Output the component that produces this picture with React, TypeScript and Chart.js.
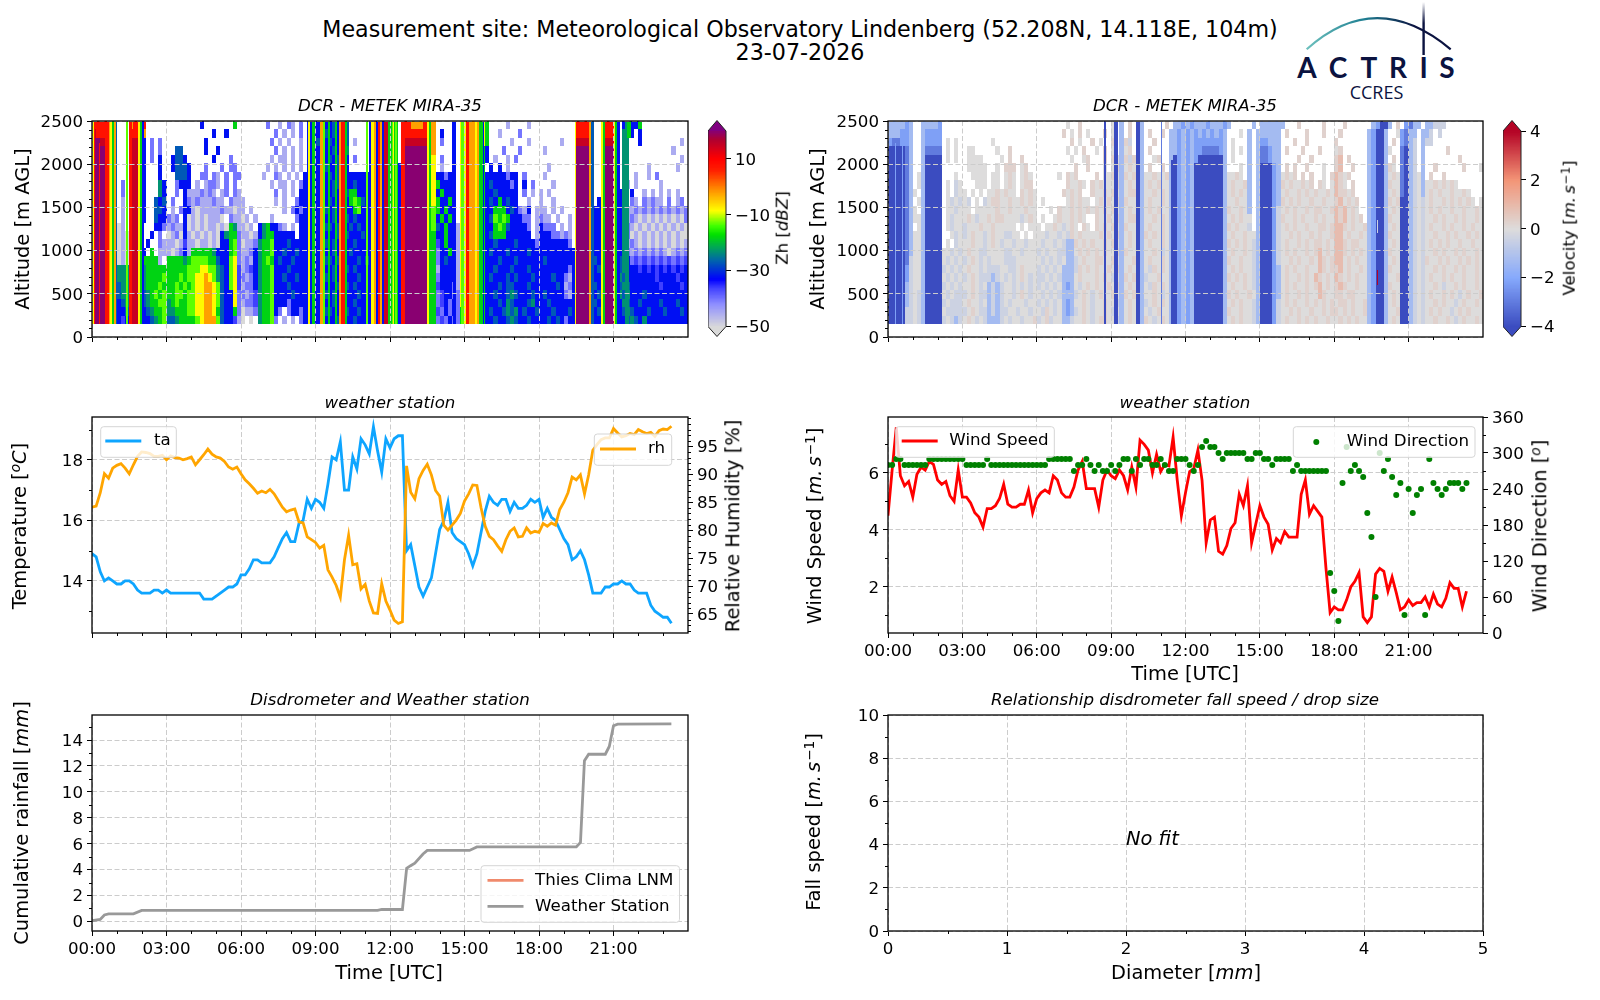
import {useEffect, useRef} from "react";
import {Chart, registerables} from "chart.js";

Chart.register(...registerables);

const FONT = "'DejaVu Sans'";
const GRID = "#cccccc";

// weather station, one value every 10 minutes
const temperature = [
  14.9, 14.8, 14.3, 14.0, 14.1, 14.0, 13.9, 13.9, 14.0, 14.0, 13.9, 13.7, 13.6, 13.6, 13.6, 13.7, 13.7, 13.6, 13.7, 13.6,
  13.6, 13.6, 13.6, 13.6, 13.6, 13.6, 13.6, 13.4, 13.4, 13.4, 13.5, 13.6, 13.7, 13.8, 13.8, 13.9, 14.2, 14.2, 14.4, 14.7,
  14.7, 14.6, 14.6, 14.6, 14.8, 15.1, 15.4, 15.6, 15.3, 15.3, 15.9, 16.0, 16.7, 16.4, 16.7, 16.6, 16.4, 17.2, 18.1, 18.0,
  18.6, 17.0, 17.0, 18.1, 17.7, 18.7, 18.5, 18.2, 19.1, 18.3, 17.6, 18.7, 18.4, 18.7, 18.8, 18.8, 15.0, 15.2, 14.5, 13.8,
  13.5, 13.8, 14.1, 14.9, 15.7, 16.0, 16.6, 15.6, 15.4, 15.3, 15.2, 14.9, 14.5, 14.9, 15.6, 16.3, 16.8, 16.6, 16.5, 16.7,
  16.7, 16.3, 16.6, 16.4, 16.4, 16.5, 16.7, 16.6, 16.7, 16.1, 16.4, 16.1, 16.0, 15.7, 15.4, 15.2, 14.7, 14.8, 15.0, 14.7,
  14.2, 13.6, 13.6, 13.6, 13.8, 13.8, 13.9, 13.9, 14.0, 13.9, 13.9, 13.7, 13.6, 13.6, 13.6, 13.2, 13.0, 12.9, 12.8, 12.8, 12.6,
];
const humidity = [
  84.1, 84.3, 86.7, 90.1, 89.3, 91.1, 91.6, 91.9, 91.1, 90.1, 91.7, 93.2, 94.0, 93.9, 93.7, 93.2, 93.2, 93.4, 92.6, 93.3,
  93.0, 92.9, 92.6, 92.8, 93.1, 91.7, 92.6, 93.5, 94.5, 93.6, 93.1, 92.9, 92.3, 91.3, 90.9, 91.3, 90.1, 89.0, 88.3, 87.5,
  86.6, 87.0, 86.7, 87.3, 86.5, 85.3, 84.1, 83.3, 83.6, 83.8, 81.5, 81.3, 78.8, 78.3, 77.8, 76.8, 77.3, 72.9, 71.6, 70.1,
  68.0, 74.7, 79.1, 73.8, 74.0, 69.5, 70.3, 67.3, 65.2, 65.1, 70.4, 67.3, 65.7, 63.9, 63.3, 63.6, 91.5, 86.8, 85.6, 89.2,
  90.7, 91.8, 89.9, 87.1, 86.1, 80.9, 80.0, 80.9, 81.8, 83.0, 85.2, 86.5, 88.1, 88.0, 84.0, 80.7, 78.9, 78.3, 77.2, 76.2,
  78.3, 79.8, 80.4, 78.8, 78.9, 80.4, 79.5, 79.8, 79.6, 81.2, 80.7, 81.3, 80.9, 83.7, 85.0, 86.7, 89.5, 89.0, 89.9, 86.5,
  89.9, 94.3, 95.3, 96.2, 96.5, 96.5, 98.2, 97.4, 96.7, 96.9, 97.3, 97.1, 98.0, 97.6, 97.3, 97.5, 96.8, 97.8, 98.1, 98.0, 98.6,
];
const windSpeed = [
  4.5, 6.1, 7.6, 5.9, 5.55, 5.7, 5.15, 5.95, 6.2, 6.1, 6.4, 6.3, 5.75, 5.6, 5.7, 5.2, 5.0, 6.1, 5.15, 5.15,
  4.95, 4.6, 4.45, 4.1, 4.75, 4.75, 4.85, 5.1, 5.6, 4.9, 4.8, 4.8, 4.9, 4.9, 5.4, 4.6, 5.1, 5.3, 5.4, 5.3,
  5.9, 5.75, 5.3, 5.15, 5.15, 5.5, 6.1, 6.4, 5.45, 5.45, 5.45, 4.8, 5.75, 6.1, 5.9, 5.8, 6.1, 5.9, 5.4, 6.2,
  5.5, 7.15, 7.0, 6.8, 6.0, 6.65, 6.05, 6.3, 6.25, 7.25, 5.75, 4.5, 5.3, 6.05, 6.15, 6.8, 5.75, 3.55, 4.35, 4.45,
  3.25, 3.15, 3.45, 4.05, 4.25, 5.25, 4.85, 5.55, 3.55, 4.2, 4.85, 4.45, 4.2, 3.3, 3.7, 3.55, 3.95, 3.75, 3.75, 3.75,
  5.25, 5.75, 4.55, 4.85, 4.65, 4.45, 2.65, 1.1, 1.3, 1.2, 1.2, 1.55, 2.0, 2.2, 2.5, 0.95, 0.75, 0.95, 2.45, 2.65,
  2.55, 1.85, 2.35, 1.8, 1.2, 1.3, 1.55, 1.35, 1.45, 1.45, 1.65, 1.3, 1.75, 1.4, 1.3, 1.6, 2.15, 1.95, 1.95, 1.3, 1.85,
];
const windDirection = [
  280, 280, 290, 290, 280, 280, 280, 280, 280, 280, 290, 290, 290, 290, 290, 290, 290, 290, 290, 280,
  280, 280, 280, 280, 290, 280, 280, 280, 280, 280, 280, 280, 280, 280, 280, 280, 280, 280, 280, 290,
  290, 290, 290, 290, 290, 270, 280, 280, 290, 280, 270, 280, 270, 270, 280, 270, 280, 290, 290, 270,
  290, 280, 290, 290, 280, 280, 290, 280, 270, 270, 290, 290, 290, 280, 270, 280, 310, 320, 310, 310,
  300, 290, 300, 300, 300, 300, 300, 290, 290, 300, 300, 290, 290, 280, 290, 290, 290, 290, 270, 280,
  270, 270, 270, 270, 270, 270, 270, 100, 70, 20, 250, 310, 270, 280, 270, 260, 200, 160, 60, 300,
  270, 290, 260, 230, 250, 30, 240, 200, 230, 240, 30, 290, 250, 240, 230, 240, 250, 250, 250, 240, 250,
];
const stationHours = temperature.map((_, i) => i / 6);

const rainHours = [0, 0.33, 0.5, 0.67, 1.67, 2, 11.5, 11.67, 12.5, 12.67, 12.83, 13, 13.33, 13.5, 15.2, 15.5, 19.5, 19.67, 19.83, 20, 20.67, 20.83, 21, 21.17, 23.33];
const rainMm = [0.05, 0.15, 0.5, 0.58, 0.58, 0.85, 0.85, 0.92, 0.92, 4.1, 4.3, 4.5, 5.2, 5.48, 5.48, 5.75, 5.75, 6.1, 12.4, 12.9, 12.9, 13.5, 15.1, 15.22, 15.25];

// tick lists
const hourTicks = [0, 3, 6, 9, 12, 15, 18, 21];
const hourMinor = [1, 2, 4, 5, 7, 8, 10, 11, 13, 14, 16, 17, 19, 20, 22, 23];
const altTicks = [0, 500, 1000, 1500, 2000, 2500];
const altMinor = [100, 200, 300, 400, 600, 700, 800, 900, 1100, 1200, 1300, 1400, 1600, 1700, 1800, 1900, 2100, 2200, 2300, 2400];
const tempTicks = [14, 16, 18];
const tempMinor = [13, 15, 17, 19];
const rhTicks = [65, 70, 75, 80, 85, 90, 95];
const rhMinor = [62, 63, 64, 66, 67, 68, 69, 71, 72, 73, 74, 76, 77, 78, 79, 81, 82, 83, 84, 86, 87, 88, 89, 91, 92, 93, 94, 96, 97, 98, 99, 100];
const speedTicks = [2, 4, 6];
const speedMinor = [1, 3, 5, 7];
const dirTicks = [0, 60, 120, 180, 240, 300, 360];
const dirMinor = [30, 90, 150, 210, 270, 330];
const rainTicks = [0, 2, 4, 6, 8, 10, 12, 14];
const rainMinor = [1, 3, 5, 7, 9, 11, 13, 15];
const fallTicks = [0, 2, 4, 6, 8, 10];
const fallMinor = [1, 3, 5, 7, 9];
const sizeTicks = [0, 1, 2, 3, 4, 5];
const sizeMinor = [0.5, 1.5, 2.5, 3.5, 4.5];
const zhBarTicks = [-50, -30, -10, 10];
const velBarTicks = [-4, -2, 0, 2, 4];

// radar levels: each letter of the rows below stands for one of these values ("." is no signal)
const zhLevels: Record<string, number> = {
  "0": -50, "1": -45, "2": -40, "3": -36, "4": -32, "5": -27, "6": -23, "7": -18, "8": -13, "9": -8, o: -2, r: 8, m: 15, p: 20,
};
const velLevels: Record<string, number> = {
  a: -4, b: -3, c: -2.2, d: -1.3, e: -0.4, "0": 0, f: 0.3, g: 0.9, h: 4,
};

// 24 altitude rows from the top (2500 m) to 150 m, 144 ten-minute columns, grouped per 3 hours
const zhRows = [
  "rrrrro...oror.....|........4.......7.|......2..1.21.2.44|45445445.....44444|87.rrooorro....4.9|oorr97....1....1..|.........rrro..orr|7.47447...........",
  "mrrrro...rrro.....|...........4..4...|........2.1.1.2.44|45545445.....44444|87.rrrrrrro.4..4.9|oorr97..1....2....|.........rrro..orr|7.6.4.4...........",
  "ppmmro...mmr4.2.2.|.........4........|.......2.1.1..1.44|54454445.1...44444|87.mmmmmmro.2..4.9|rorm97.....1...1..|.....1...mmmr..rmm|4.6...4.........1.",
  "ppppmr...mmr4.2.2.|..55.....4..4.....|........2.1.1.1.44|45445456.....44444|87.ppppppmo....4.9|mrmr74...2...2....|.1.......pppr..rpp|4.6...........1...",
  "ppppmr...pmr4.2.4.|.4554......4...2..|.......1.11.1.1.44|45454544.2...44444|87.ppppppp9.2..4.9|mrmr74.1..1.2.....|.........pppr..rpp|4.6.............1.",
  "ppppmr...pmr4...4.|.45554...2...2.22.|......1.1.1.1.1.44|45544554.....44444|874ppppppp9.1..4.9|mrmr7.4.4.1.......|..1......pppr..rpp|4.6.....1......1..",
  "ppppmr...pmr4...4.|..5554..22.21.2.22|.....1..21.1.1.444|454545444444444444|874ppppppp944244.9|mrmr744444244.2...|.1.......pppr..rpp|4.6..1..1.2.......",
  "ppppmr.2.pmr4...64|..2444.1.1221.2.2.|.......1.11.1.2444|454455444544444444|874ppppppp974444.9|mrmr745444424.4.2.|...1.....pppr..rpp|4.61.1.....1......",
  "ppppmr.2.pmr4...64|..2.41112121.12.21|........2.1.1.4444|454454457744444444|874ppppppp947444.9|mrmr744544444.2.1.|1.1......pppr..rpp|446.4..1.1.1.1.1..",
  "ppppmr.1.pmr4..545|.2..4212111211.211|1.......1.1..24444|454544447875444444|874ppppppp974474.9|mrmr745474544..1..|1..1.....pppr.4rpp|446.21.21211.2.12.",
  "ppppmr.1.pmr4..554|.1.244101111121101|1.1.......1.242444|445454544784444444|874ppppppp874744.9|mrmr744777454214.1|11.1.1...pppr44rpp|446112121212121212",
  "ppppmr.1.pmr4..544|212.4010101110.211|01.1...1.....24444|454454454544444444|874ppppppp847474.9|mrmr745878744422.1|211.1..1.pppr44rpp|446121010101010102",
  "ppppmr01.pmr...442|121140101011010761|101.4674421.1.4444|445545445454444444|874ppppppp85474419|mrmr744787544442.1|4222.1.1.pppr44rpp|446210101010101010",
  "ppppmr010pmr..4.2.|012041010101046772|1101467744444.4444|454445454445444444|874ppppppp74474419|mrmr745777444444.1|44422121.pppr44rpp|446201010101010100",
  "ppppmr010pmr.4..21|110131101101044782|011267784445444444|445454444544444444|874ppppppp73474419|mrmr74454444544442|44444442.pppr44rpp|446121010101010101",
  "ppppmr010pmr4.7.11|101241777776444782|112467784454454444|454454545444444444|874ppppppp72447419|mrmr74544454444544|444444444pppr44rpp|446212121212101212",
  "ppppmr010pmr77771.|777767888877544892|121467874544544444|445545444454544444|874ppppppp72454419|mrmr74445444544444|454444444pppr54rpp|456423232323232323",
  "ppppmr666pmr677777|777778889988654893|123467784445444444|454454454544444444|874ppppppp71444419|mrmr74454445444544|444444424pppr45rpp|456444343434343434",
  "ppppmr666pmr677778|777878899o98654893|212467784454454444|445454444454444444|874ppppppp72444419|mrmr74544454544454|444544214pppr44rpp|465444444434444344",
  "ppppmr566pmr677787|778787899oo9854893|122467784445444444|454445454544444444|874ppppppp73444219|mrmr74445455444544|444454124pppr54rpp|456544444443444434",
  "ppppmr566pmr567878|778878899oo9854492|212367784444544444|445454544454444444|874ppppppp72344229|mrmr74454456544454|454444214pppr45rpp|465644454444444444",
  "ppppmr456pmr567788|678778899oo9854492|122367784442444444|454454444544444444|874ppppppp72342429|mrmr74445465444564|445444444pppr54rpp|446544544445444544",
  "ppppmr445pmr456778|667778899oo9754472|0112677842.2442444|445544454454444444|874ppppppp73242427|mrmr74544565645445|444544454pppr45rpp|445654445444544454",
  "ppppmr434pmr445678|556777789ooo854431|0.0.67782.1.1.2444|454445444544444444|874ppppppp72324227|mrmr74454456544544|445454244pppr44rpp|444565464444444444",
];
const velRows = [
  "ddddcd..ddddc.....|..................|.......0..f.......|0.d.f..d.....f.ddcd|cdddcdddcd.....d.d|ddddd...f.....f...|.f......dcaad.f.cb|dd.ddeee..........",
  "dddccd..dcccc.....|..................|......f.0.f.0...f.|0.d.f..d.f..f.ddcd|cdcdcdcdcd...0.d.d|ddddd.f....f...f..|.f......dcaad..0cb|dd.dde.e..........",
  "cbbccd..dcccc.0.0.|.......0..........|........f.0..f.0..|f.dfe.fd..f...ddcd|cdcccccccd.0...d.d|ccddd...f..f......|f.......dcaad.f.cb|de.dee............",
  "aaaabd..dbbbb.0.0.|.00.....0..f......|.......0.0.f..0.f.|0.d0f.0d.f....ddcd|cdccbbbbcd.0.0.d.d|bbcdd.f...f...f...|0f......dcaad0..ba|de.d.....f........",
  "aaaabd..daaaa.0.0.|.0000....0.f..f...|........0..0f...f.|f0dfef0d..0f..dacd|cdcaaaaaad.0...d.d|bbcdd....f..f.....|fg.f....dcaad.f.ba|de.d........f.....",
  "aaaabd..daaaa.....|.00000..0.fff.0f..|.........f..f...0.|0fd0f00d.f..f.dacd|cdaaaaaaad...0.d.d|aaacd.f.f..f...0..|fg..f...dcaadf0.ba|de.d..f......f...0",
  "aaaabd.0daaaa...0.|..0000.00.0f0.0f0.|.....0.f0f....f.00|f0df0ffd00f00fdacd|cdaaaaaaad00f0.d.d|aaacd0f0f.f.f..0.f|gf0f....dcaad0f0ba|de0d.f..f.........",
  "aaaabd.0daaaa.0.e0|...000.00.0f0.0ff.|.......f00f0.f0f00|0fd0f00d0f0f00dacd|cdaaaaaaad0f00fd.d|aaacdf0f00f0f.f0.0|gf0.f...dcaadf00ba|de0d00f0f0f0......",
  "aaaabd0.daaaa.0.e0|0.0.0.00f0f00.f0f0|......f0f0f..f00f0|f0d0ff0d00f0f0dacd|cdaaaaaaad0f0f0d.d|aaacd0f00f0f0f00f0|gff0f...dcaad0f0ba|de0d0f0f00f00f0...",
  "aaaabd.0daaaa.0e0e|0e.0.e0ff00f00f0f0|.0.....0f0f00.0f0f|0fdf00fd0f00f0dacd|cdaaaaaaad00f00d.d|aaacdf0f0f00f00f00|fg0f0f..dcaadf0faa|de0e0f00f0f0f0f0.0",
  "aaaabd0.daaaa.00e0|00.00000f00f000f00|...0.f00f0f0f0f0f0|f0d0f00d0f0f00dacd|cdaaaaaaadf00f0d.d|aaace0f0f00f0ff00f|gfg0f0..dcaad0f0aa|de0e0f0f00f00f00f0",
  "aaaabd00daaaa.0e00|0f0e00f0ff0000e0f0|.0..0f00f0f0..f00f|0fd0ff0d00f0f0dacd|cdaaaaaaad0f0f00.d|aaacef00f0f00f0f00|gfg0f0f.dcaadf00aa|de0e00f0f00f0f00f0",
  "aaaabd.0daaaa.0e00|e000f00f00000.0.00|0.00f0e0f0.f0.f0f0|f0df00fd0f00f0dacd|cdaaaaaaadf0f00e.d|aaace0f0f00f00ff0f|ggf0f00fdcaad0f0aa|de0e0f00f0f00f0f00",
  "aaaabd00daaaa..0e0|e0f00e0f00ee00.0.0|00e00e0ef0f0000f0f|0fd0f00df0f0f0dacd|cdaaaaaaad0f00f00d|aaace00f0f00f0f00f|gg0f00f0dcaadf00aa|de0e00f00f0f00f0f0",
  "aaaabd00daaaa.0.e0|00f00e0f0e00e00e00|0e00e0eddf0f0f00f0|f0d0f0fd0f00f0dacd|cdaaaaaaadf0f0f0ed|aaace0f00f0f0ff0f0|ggf0ff00dcaad0f0aa|de0e0f0f0f00f00f00",
  "aaaabd00daaaa00e0e|0f00ee0000ee00e000|e0e00eedd0f0f0f0f0|0fdf00fd00f0e0dacd|cdaaaaaaad0f00f0ed|aaace0f0f00f0fg0f0|ggf0f0f0dcaadf00aa|de0e00f0f00f0f00f0",
  "aaaabe00daaaa0e0e0|e0f0e0e000eee00000|0e0e0e0dde0f00ff00|f0d00f0d0f00f0dacd|cdaaaaaaadf00f00ed|aaace00f0f00f0gf0f|gg0f0f00dcaad0f0aa|de0ef00f0f00f0f0f0",
  "aaaace00daaaae0e0e|0f00e0eee00ee0f000|e0e0e0dddef0f0f00f|0fd0f00d0ef0f0dacd|cdaaaaaaad0f0f00ed|aaacd0f0f00f00gf0f|fg0f00f0dcaadf00aa|de0e00f0f00f0f00f0",
  "aaaace00daaaa0e0e0|e0f0eeede0e0e0f0e0|ee0e0eddd0f000f0f0|e0df0f0de00f00dacd|cdaaaaaaadf0f0f0ed|aaacd0f00f0f0gf0f0|gf0f0f00dcaad00faa|de0e0f00f0f00f00f0",
  "aaaade00daaaae0e0e|00f0e0dede00e0e0e0|e0e0e0dcd0e0f0f00f|0fd0f00d0ef0f0dacd|cdaaaaaaad0f00f0ed|aaacd0f0f00f0fg0f0|fgf00f00dcaadf00aa|de0e00f0e00f0f00f0",
  "aaaade0edaaaa0e0ee|e0f0eedede00e0f0e0|0e0e0eddde0f0e0f00|f0df0f0d00f0e0dacd|cdaaaaaaadf0f00f0d|aaacd0f00f0f00gf00|ff0ff000dcaad0f0aa|de0e0f00f0f0e0f00f",
  "aaaade0edaaaae0eee|0f00e0dede0e000e00|e0e0e0dcd00f0e00f0|0ed0f00de0f0f0dacd|cdaaaaaaad0f0f00ed|aaace0f0f00f0f0f0f|0ff0f00fdcaad0f0aa|de0e00f0f00e0f00f0",
  "aaaaee0edaaaa0eeee|e0f0eededee00e00e0|0ef0e0dcde0f0e00f0|e0d0f0fd0e0f00dacd|cdaaaaaaadf00f00ed|aaace00f0f00f00f0f|f0f0f00fdcaad00faa|de0e0f0f00e0f0f000",
  "aaaaee0edaaaae0ede|0f0e0eddde0e00e00f|e0fe00dde00f0e0ff0|0ed0f00df0e0f0dacd|cdaaaaaaad0f0f00ed|aaace0f00f0f0f00f0|0f0f0f00dcaad0f0aa|de0e00f00f0e0f00f0",
];

// narrow vertical stripes on top of the rows: start hour, end hour, low altitude, high altitude, level
const zhStripes: [number, number, number, number, string][] = [
  [0, 0.08, 150, 2500, "9"], [0.08, 0.13, 150, 2500, "r"], [0.3, 0.33, 150, 2250, "r"], [0.54, 0.67, 150, 2500, "r"],
  [0.67, 0.74, 150, 2500, "o"], [0.74, 0.8, 150, 2500, "9"], [0.8, 0.87, 150, 2500, "7"], [0.87, 0.97, 150, 2500, "o"],
  [0.97, 1.02, 150, 2500, "5"], [1.38, 1.45, 150, 2500, "8"], [1.47, 1.6, 150, 2500, "r"], [1.6, 1.87, 150, 2200, "m"],
  [1.87, 1.95, 150, 2500, "9"], [1.95, 2.01, 150, 2500, "7"], [2.01, 2.08, 150, 2500, "4"],
  [8.71, 8.78, 150, 2500, "9"], [8.85, 8.98, 150, 2500, "7"], [9.18, 9.29, 150, 2500, "o"], [9.29, 9.38, 150, 2500, "8"],
  [9.5, 9.6, 150, 2500, "7"], [9.78, 9.85, 150, 2500, "7"], [9.96, 10.03, 150, 2500, "o"], [10.03, 10.19, 150, 2500, "r"],
  [10.19, 10.25, 150, 2500, "7"], [11.03, 11.12, 150, 2500, "8"], [11.25, 11.35, 150, 2500, "9"], [11.35, 11.45, 150, 2500, "o"],
  [11.5, 11.6, 150, 2500, "r"], [11.6, 11.68, 150, 2500, "o"], [11.75, 11.9, 150, 2500, "m"], [11.9, 11.98, 150, 2500, "7"],
  [12, 12.07, 150, 2500, "7"], [12.11, 12.16, 150, 2500, "9"], [12.2, 12.27, 150, 2500, "8"], [12.44, 12.6, 150, 2500, "r"],
  [13.5, 13.58, 150, 2500, "9"], [13.58, 13.65, 150, 2500, "7"], [14.55, 14.65, 150, 2500, "4"], [14.85, 14.97, 150, 2500, "8"],
  [14.97, 15.05, 150, 2500, "9"], [15.05, 15.2, 150, 2500, "r"], [15.2, 15.42, 150, 2500, "o"], [15.42, 15.5, 150, 2500, "9"],
  [15.5, 15.58, 150, 2500, "o"], [15.6, 15.75, 150, 2500, "7"], [15.75, 15.8, 150, 2500, "4"], [19.44, 19.5, 150, 2500, "9"],
  [20, 20.1, 150, 2500, "o"], [20.1, 20.2, 150, 2500, "5"], [20.51, 20.58, 150, 2500, "9"], [20.58, 20.64, 150, 2500, "7"],
  [21, 21.05, 150, 2500, "9"], [21.05, 21.15, 150, 2500, "7"], [21.15, 21.25, 150, 2500, "4"], [21.45, 21.62, 150, 2500, "6"],
  [21.55, 21.7, 2300, 2500, "7"],
];
const velStripes: [number, number, number, number, string][] = [
  [0.3, 0.33, 150, 2250, "c"], [0.55, 0.58, 150, 2250, "c"], [8.73, 8.8, 150, 2500, "a"], [9.13, 9.27, 150, 2500, "a"],
  [10, 10.15, 150, 2500, "a"], [11, 11.06, 150, 2500, "b"], [11.42, 11.62, 150, 2050, "a"], [19.72, 19.76, 600, 775, "h"],
  [19.72, 19.75, 1200, 1350, "e"],
];

// colour scales: value, colour
const zhScale: [number, number[]][] = [
  [-50, [217, 217, 217]], [-42, [144, 144, 255]], [-36, [64, 64, 255]], [-33, [0, 0, 255]], [-26.5, [0, 96, 176]], [-22, [0, 160, 96]],
  [-17, [0, 224, 0]], [-13.8, [64, 255, 0]], [-8.4, [255, 255, 0]], [-2, [255, 160, 0]], [6, [255, 32, 0]], [10.2, [255, 0, 0]],
  [17, [176, 0, 48]], [20.7, [128, 0, 128]],
];
const velScale: [number, number[]][] = [
  [-4, [59, 76, 192]], [-2, [134, 169, 252]], [0, [221, 220, 220]], [2, [243, 149, 119]], [4, [180, 4, 38]],
];

function colorOf(scale: [number, number[]][], v: number) {
  let i = 0;
  while (i < scale.length - 2 && v > scale[i + 1][0]) i++;
  const [v0, c0] = scale[i];
  const [v1, c1] = scale[i + 1];
  const t = Math.max(0, Math.min(1, (v - v0) / (v1 - v0)));
  return `rgb(${c0.map((c, k) => Math.round(c + (c1[k] - c) * t)).join(",")})`;
}

// draws radar rows and stripes with the chart's own scales
function heatmapPlugin(rows: string[], levels: Record<string, number>, stripes: typeof zhStripes, scale: typeof zhScale) {
  const altStep = (2500 - 150) / rows.length;
  const paint = (chart: any, t0: number, t1: number, a0: number, a1: number, code: string) => {
    if (levels[code] === undefined) return;
    const {x, y} = chart.scales;
    const left = Math.round(x.getPixelForValue(t0));
    const right = Math.round(x.getPixelForValue(t1));
    const top = Math.round(y.getPixelForValue(a1));
    const bottom = Math.round(y.getPixelForValue(a0));
    chart.ctx.fillStyle = colorOf(scale, levels[code]);
    chart.ctx.fillRect(left, top, Math.max(1, right - left), bottom - top);
  };
  return {
    id: "heatmap",
    beforeDatasetsDraw(chart: any) {
      chart.ctx.save();
      rows.forEach((row, r) => {
        const cells = row.replace(/\|/g, "");
        for (let c = 0; c < cells.length; c++) {
          paint(chart, c / 6, (c + 1) / 6, 2500 - (r + 1) * altStep, 2500 - r * altStep, cells[c]);
        }
      });
      stripes.forEach(s => paint(chart, s[0], s[1], s[2], s[3], s[4]));
      chart.ctx.restore();
    },
  };
}

function framePlugin(minor: Record<string, number[]>) {
  return {
    id: "frame",
    afterDraw(chart: any) {
      const {ctx, chartArea: a, scales} = chart;
      ctx.save();
      ctx.strokeStyle = "#000";
      ctx.lineWidth = 1;
      Object.keys(minor).forEach(id => {
        const s = scales[id];
        minor[id].forEach(v => {
          const p = Math.round(s.getPixelForValue(v)) + 0.5;
          ctx.beginPath();
          if (id === "x") {
            ctx.moveTo(p, a.bottom);
            ctx.lineTo(p, a.bottom + 3);
          } else if (s.position === "right") {
            ctx.moveTo(a.right, p);
            ctx.lineTo(a.right + 3, p);
          } else {
            ctx.moveTo(a.left, p);
            ctx.lineTo(a.left - 3, p);
          }
          ctx.stroke();
        });
      });
      ctx.lineWidth = 1.3;
      ctx.strokeRect(a.left, a.top, a.right - a.left, a.bottom - a.top);
      ctx.restore();
    },
  };
}

type LegendEntry = {label: string; color: string; dot?: boolean; y: number};
type LegendBox = {left: number; right: number; top: number; bottom: number; handle: number; text: number; entries: LegendEntry[]};

function legendPlugin(boxes: LegendBox[]) {
  return {
    id: "boxLegend",
    afterDraw(chart: any) {
      const {ctx} = chart;
      const {left: ox, top: oy} = chart.canvas.getBoundingClientRect();
      ctx.save();
      ctx.translate(-ox, -oy);
      boxes.forEach(b => {
        ctx.beginPath();
        ctx.roundRect(b.left, b.top, b.right - b.left, b.bottom - b.top, 3);
        ctx.fillStyle = "rgba(255,255,255,0.8)";
        ctx.fill();
        ctx.strokeStyle = "#d5d5d5";
        ctx.lineWidth = 1;
        ctx.stroke();
        b.entries.forEach(e => {
          if (e.dot) {
            ctx.fillStyle = e.color;
            ctx.beginPath();
            ctx.arc(b.handle + 18, e.y, 3, 0, Math.PI * 2);
            ctx.fill();
          } else {
            ctx.strokeStyle = e.color;
            ctx.lineWidth = 2.8;
            ctx.beginPath();
            ctx.moveTo(b.handle, e.y);
            ctx.lineTo(b.handle + 36, e.y);
            ctx.stroke();
          }
          ctx.fillStyle = "#000";
          ctx.font = `16.67px ${FONT}`;
          ctx.textBaseline = "middle";
          ctx.fillText(e.label, b.text, e.y);
        });
      });
      ctx.restore();
    },
  };
}

const noFitPlugin = {
  id: "noFit",
  afterDraw(chart: any) {
    const {ctx, scales} = chart;
    ctx.save();
    ctx.fillStyle = "#000";
    ctx.font = `italic 19.44px ${FONT}`;
    ctx.fillText("No fit", scales.x.getPixelForValue(2), scales.y.getPixelForValue(4));
    ctx.restore();
  },
};

function fixedTicks(values: number[]) {
  return (s: any) => {
    s.ticks = values.map(value => ({value}));
  };
}

function axisBase(values: number[]) {
  return {
    type: "linear",
    afterBuildTicks: fixedTicks(values),
    grid: {color: GRID, tickColor: "#000", tickLength: 5, tickBorderDash: [], tickWidth: 1, lineWidth: 1},
    border: {display: false, dash: [5, 2.5]},
    ticks: {
      color: "#000",
      font: {family: FONT, size: 16.67},
      padding: 4,
      autoSkip: false,
      maxRotation: 0,
      callback: (v: any) => String(v),
    },
  };
}

function timeAxis(showLabels: boolean, gridOnTop = false) {
  const base = axisBase(hourTicks);
  return {
    ...base,
    min: 0,
    max: 24,
    afterFit: (s: any) => {
      s.height = 40;
    },
    grid: {...base.grid, z: gridOnTop ? 1 : 0},
    ticks: {
      ...base.ticks,
      display: showLabels,
      callback: (v: any) => `${String(v).padStart(2, "0")}:00`,
    },
  };
}

function leftAxis(values: number[], min: number, max: number, gridOnTop = false) {
  const base = axisBase(values);
  return {
    ...base,
    min,
    max,
    afterFit: (s: any) => {
      s.width = 80;
    },
    grid: {...base.grid, z: gridOnTop ? 1 : 0},
    ticks: {...base.ticks, labelOffset: 1.5},
  };
}

function rightAxis(values: number[], min: number, max: number) {
  const base = axisBase(values);
  return {
    ...base,
    position: "right",
    min,
    max,
    afterFit: (s: any) => {
      s.width = 80;
    },
    grid: {...base.grid, drawOnChartArea: false},
    ticks: {...base.ticks, labelOffset: 1.5},
  };
}

function heatmapConfig(rows: string[], levels: Record<string, number>, stripes: typeof zhStripes, scale: typeof zhScale) {
  return {
    type: "scatter",
    data: {datasets: []},
    options: {
      responsive: false,
      animation: false,
      devicePixelRatio: 1,
      layout: {padding: {top: 20, right: 80}},
      plugins: {legend: {display: false}, tooltip: {enabled: false}},
      scales: {x: timeAxis(false, true), y: leftAxis(altTicks, 0, 2500, true)},
    },
    plugins: [heatmapPlugin(rows, levels, stripes, scale), framePlugin({x: hourMinor, y: altMinor})],
  };
}

function colorBarConfig(scale: typeof zhScale, ticks: number[], min: number, max: number) {
  return {
    type: "scatter",
    data: {datasets: []},
    options: {
      responsive: false,
      animation: false,
      devicePixelRatio: 1,
      layout: {padding: {top: 21, bottom: 20.5, left: 0}},
      plugins: {legend: {display: false}, tooltip: {enabled: false}},
      scales: {
        x: {display: false, min: 0, max: 1},
        y: {
          ...axisBase(ticks),
          position: "right",
          min,
          max,
          afterFit: (s: any) => {
            s.width = 60;
          },
          grid: {drawOnChartArea: false, tickColor: "#000", tickLength: 5},
          ticks: {
            ...axisBase(ticks).ticks,
            labelOffset: 1.5,
            callback: (v: any) => String(v).replace("-", "\u2212"),
          },
        },
      },
    },
    plugins: [
      {
        id: "colorBar",
        beforeDatasetsDraw(chart: any) {
          const {ctx, chartArea: a, scales} = chart;
          const y = scales.y;
          const steps = 140;
          ctx.save();
          for (let i = 0; i < steps; i++) {
            const v0 = min + ((max - min) * i) / steps;
            const v1 = min + ((max - min) * (i + 1)) / steps;
            ctx.fillStyle = colorOf(scale, (v0 + v1) / 2);
            ctx.fillRect(a.left, y.getPixelForValue(v1) - 0.5, a.right - a.left, y.getPixelForValue(v0) - y.getPixelForValue(v1) + 1);
          }
          const mid = (a.left + a.right) / 2;
          const tip = (base: number, apex: number, value: number) => {
            ctx.fillStyle = colorOf(scale, value);
            ctx.beginPath();
            ctx.moveTo(a.left, base);
            ctx.lineTo(mid, apex);
            ctx.lineTo(a.right, base);
            ctx.closePath();
            ctx.fill();
          };
          tip(a.top, a.top - 10.5, max + 1);
          tip(a.bottom, a.bottom + 10, min);
          ctx.strokeStyle = "#222";
          ctx.lineWidth = 1;
          ctx.beginPath();
          ctx.moveTo(a.left, a.bottom);
          ctx.lineTo(a.left, a.top);
          ctx.lineTo(mid, a.top - 10.5);
          ctx.lineTo(a.right, a.top);
          ctx.lineTo(a.right, a.bottom);
          ctx.lineTo(mid, a.bottom + 10);
          ctx.closePath();
          ctx.stroke();
          ctx.restore();
        },
      },
    ],
  };
}

const points = (xs: number[], ys: number[]) => xs.map((x, i) => ({x, y: ys[i]}));

const lineStyle = {showLine: true, pointRadius: 0, borderWidth: 2.8, tension: 0, fill: false};

const tempConfig = {
  type: "scatter",
  data: {
    datasets: [
      {...lineStyle, data: points(stationHours, humidity), borderColor: "#ffa500", yAxisID: "y1"},
      {...lineStyle, data: points(stationHours, temperature), borderColor: "#0ea5ff", yAxisID: "y"},
    ],
  },
  options: {
    responsive: false,
    animation: false,
    devicePixelRatio: 1,
    layout: {padding: {top: 20}},
    plugins: {legend: {display: false}, tooltip: {enabled: false}},
    scales: {x: timeAxis(false), y: leftAxis(tempTicks, 12.28, 19.42), y1: rightAxis(rhTicks, 61.6, 100.25)},
  },
  plugins: [
    framePlugin({x: hourMinor, y: tempMinor, y1: rhMinor}),
    legendPlugin([
      {left: 100.7, right: 176.3, top: 426.7, bottom: 457.3, handle: 105.3, text: 154, entries: [{label: "ta", color: "#0ea5ff", y: 441}]},
      {left: 594.3, right: 671.7, top: 434, bottom: 465.3, handle: 600, text: 648, entries: [{label: "rh", color: "#ffa500", y: 449}]},
    ]),
  ],
};

const windConfig = {
  type: "scatter",
  data: {
    datasets: [
      {data: points(stationHours, windDirection), backgroundColor: "#008000", pointRadius: 3, borderWidth: 0, yAxisID: "y1"},
      {...lineStyle, data: points(stationHours, windSpeed), borderColor: "#ff0000", yAxisID: "y"},
    ],
  },
  options: {
    responsive: false,
    animation: false,
    devicePixelRatio: 1,
    layout: {padding: {top: 20}},
    plugins: {legend: {display: false}, tooltip: {enabled: false}},
    scales: {x: timeAxis(true), y: leftAxis(speedTicks, 0.386, 7.96), y1: rightAxis(dirTicks, 0, 360)},
  },
  plugins: [
    framePlugin({x: hourMinor, y: speedMinor, y1: dirMinor}),
    legendPlugin([
      {left: 895.7, right: 1054.3, top: 426.7, bottom: 457.3, handle: 901.7, text: 949.3, entries: [{label: "Wind Speed", color: "#ff0000", y: 441}]},
      {left: 1293.3, right: 1475, top: 426.7, bottom: 457.3, handle: 1298.3, text: 1346.7, entries: [{label: "Wind Direction", color: "#008000", dot: true, y: 442}]},
    ]),
  ],
};

const rainConfig = {
  type: "scatter",
  data: {datasets: [{...lineStyle, data: points(rainHours, rainMm), borderColor: "#999999"}]},
  options: {
    responsive: false,
    animation: false,
    devicePixelRatio: 1,
    layout: {padding: {top: 20, right: 80}},
    plugins: {legend: {display: false}, tooltip: {enabled: false}},
    scales: {x: timeAxis(true), y: leftAxis(rainTicks, -0.74, 15.93)},
  },
  plugins: [
    framePlugin({x: hourMinor, y: rainMinor}),
    legendPlugin([
      {
        left: 481, right: 679.5, top: 865.7, bottom: 922.3, handle: 487.5, text: 535,
        entries: [
          {label: "Thies Clima LNM", color: "#f08a6c", y: 880.3},
          {label: "Weather Station", color: "#999999", y: 906.3},
        ],
      },
    ]),
  ],
};

const fallConfig = {
  type: "scatter",
  data: {datasets: []},
  options: {
    responsive: false,
    animation: false,
    devicePixelRatio: 1,
    layout: {padding: {top: 20, right: 80}},
    plugins: {legend: {display: false}, tooltip: {enabled: false}},
    scales: {
      x: {
        ...axisBase(sizeTicks),
        min: 0,
        max: 5,
        afterFit: (s: any) => {
          s.height = 40;
        },
      },
      y: leftAxis(fallTicks, 0, 10),
    },
  },
  plugins: [framePlugin({x: sizeMinor, y: fallMinor}), noFitPlugin],
};

function Panel({left, top, width, height, config}: {left: number; top: number; width: number; height: number; config: any}) {
  const canvasRef = useRef<HTMLCanvasElement>(null);

  useEffect(() => {
    if (!canvasRef.current) return;
    const chart = new Chart(canvasRef.current, config);
    return () => chart.destroy();
  }, [config]);

  return <canvas ref={canvasRef} width={width} height={height} style={{position: "absolute", left, top, width, height}} />;
}

// plot box of a panel plus room for its axes
function PlotPanel({l, r, t, b, config}: {l: number; r: number; t: number; b: number; config: any}) {
  return <Panel left={l - 80} top={t - 20} width={r - l + 160} height={b - t + 60} config={config} />;
}

function Text({x, y, size = 19.44, rotate = false, italic = false, children}: any) {
  return (
    <div
      style={{
        position: "absolute",
        left: x,
        top: y,
        transform: `translate(-50%, -50%)${rotate ? " rotate(-90deg)" : ""}`,
        fontFamily: FONT,
        fontSize: size,
        fontStyle: italic ? "italic" : "normal",
        whiteSpace: "nowrap",
        color: "#000",
        lineHeight: 1,
      }}
    >
      {children}
    </div>
  );
}

const supStyle = {fontSize: "70%", verticalAlign: "0.45em", lineHeight: 0};
const SpeedUnit = () => (
  <>
    [<i>m.<span style={{marginLeft: 3}}>s</span></i>
    <span style={{...supStyle, marginLeft: 1}}>{"\u2212"}1</span>]
  </>
);

function Logo() {
  return (
    <svg width={190} height={110} viewBox="1280 0 190 110" style={{position: "absolute", left: 1280, top: 0}}>
      <defs>
        <linearGradient id="arc" x1="0" x2="1" y1="0" y2="0">
          <stop offset="0" stopColor="#6cc0bd" />
          <stop offset="0.4" stopColor="#1f7f92" />
          <stop offset="0.75" stopColor="#0b1340" />
          <stop offset="1" stopColor="#0b1340" />
        </linearGradient>
        <linearGradient id="mast" x1="0" x2="0" y1="0" y2="1">
          <stop offset="0" stopColor="#0b1340" stopOpacity="0" />
          <stop offset="0.4" stopColor="#0b1340" />
        </linearGradient>
      </defs>
      <path d="M1306.7 49.3 Q1376 -13 1450.7 49.3" fill="none" stroke="url(#arc)" strokeWidth="2.2" />
      <rect x="1422.4" y="2" width="2.4" height="53" fill="url(#mast)" />
      <g fill="#0b1340" fontFamily="Lato" fontSize="28" fontWeight="700" textAnchor="middle">
        <text x="1307" y="77.7">A</text>
        <text x="1338" y="77.7">C</text>
        <text x="1369" y="77.7">T</text>
        <text x="1398" y="77.7">R</text>
        <text x="1423.6" y="77.7">I</text>
        <text x="1447" y="77.7">S</text>
      </g>
      <text x="1376.5" y="98.7" fill="#0b1340" fontFamily="Open Sans" fontSize="18" textAnchor="middle">CCRES</text>
    </svg>
  );
}

const zhConfig = heatmapConfig(zhRows, zhLevels, zhStripes, zhScale);
const velConfig = heatmapConfig(velRows, velLevels, velStripes, velScale);
const zhBarConfig = colorBarConfig(zhScale, zhBarTicks, -50, 20);
const velBarConfig = colorBarConfig(velScale, velBarTicks, -4, 4);

export default function App() {
  return (
    <div style={{position: "absolute", left: 0, top: 0, width: 1600, height: 1000, background: "#fff", overflow: "hidden"}}>
      <Text x={800} y={29} size={22.2}>Measurement site: Meteorological Observatory Lindenberg (52.208N, 14.118E, 104m)</Text>
      <Text x={800} y={52} size={22.2}>23-07-2026</Text>
      <Logo />

      <PlotPanel l={92} r={688} t={121} b={337} config={zhConfig} />
      <PlotPanel l={888} r={1483} t={121} b={337} config={velConfig} />
      <PlotPanel l={92} r={688} t={417} b={633} config={tempConfig} />
      <PlotPanel l={888} r={1483} t={417} b={633} config={windConfig} />
      <PlotPanel l={92} r={688} t={715} b={931} config={rainConfig} />
      <PlotPanel l={888} r={1483} t={715} b={931} config={fallConfig} />
      <Panel left={708} top={110} width={78} height={237} config={zhBarConfig} />
      <Panel left={1503} top={110} width={78} height={237} config={velBarConfig} />

      <Text x={390} y={106} size={16.67} italic>DCR - METEK MIRA-35</Text>
      <Text x={1185} y={106} size={16.67} italic>DCR - METEK MIRA-35</Text>
      <Text x={390} y={403} size={16.67} italic>weather station</Text>
      <Text x={1185} y={403} size={16.67} italic>weather station</Text>
      <Text x={390} y={700} size={16.67} italic>Disdrometer and Weather station</Text>
      <Text x={1185} y={700} size={16.67} italic>Relationship disdrometer fall speed / drop size</Text>

      <Text x={23} y={229} rotate>Altitude [m AGL]</Text>
      <Text x={818} y={229} rotate>Altitude [m AGL]</Text>
      <Text x={783} y={228} size={16.67} rotate>Zh [<i>dBZ</i>]</Text>
      <Text x={1570} y={228} size={16.67} rotate>Velocity <SpeedUnit /></Text>
      <Text x={20} y={526} rotate>Temperature [<i><span style={supStyle}>o</span>C</i>]</Text>
      <Text x={733} y={526} rotate>Relative Humidity [%]</Text>
      <Text x={815} y={526} rotate>Wind Speed <SpeedUnit /></Text>
      <Text x={1540} y={526} rotate>Wind Direction [<i><span style={supStyle}>o</span></i>]</Text>
      <Text x={22} y={823} rotate>Cumulative rainfall [<i>mm</i>]</Text>
      <Text x={814} y={822} rotate>Fall speed <SpeedUnit /></Text>
      <Text x={1185} y={674}>Time [UTC]</Text>
      <Text x={389} y={973}>Time [UTC]</Text>
      <Text x={1186} y={973}>Diameter [<i>mm</i>]</Text>
    </div>
  );
}
